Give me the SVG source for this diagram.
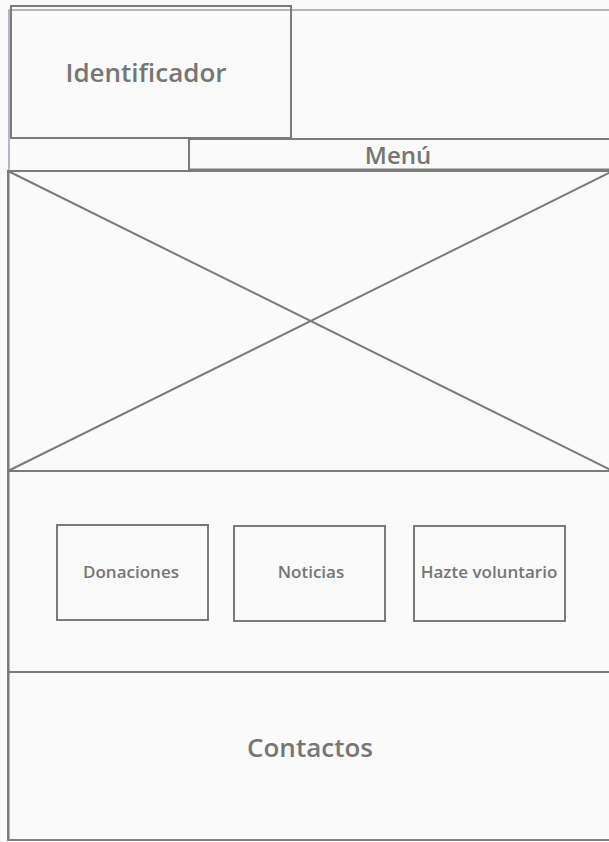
<svg xmlns="http://www.w3.org/2000/svg" width="609" height="842" viewBox="0 0 609 842">
<style>
.bx{fill:none;stroke:#7b7b7b;stroke-width:2}
.fr{fill:none;stroke:#8f86a3;stroke-width:1.2}
.t{font-family:"Open Sans","Noto Sans",sans-serif;fill:#767676;text-anchor:middle;font-weight:600}
</style>
<rect x="0" y="0" width="609" height="842" fill="#fafafa"/>
<rect class="fr" x="9" y="10" width="610" height="830"/>
<g id="identificador">
<rect class="bx" x="11" y="6" width="280" height="132"/>
<text class="t" x="146" y="82" font-size="26">Identificador</text>
</g>
<g id="menu">
<rect class="bx" x="189" y="139" width="425" height="31"/>
<line x1="189" y1="170" x2="609" y2="170" stroke="#7b7b7b" stroke-width="3"/>
<text class="t" x="398" y="164" font-size="24">Menú</text>
</g>
<g id="imagen">
<rect class="bx" x="8" y="171" width="605" height="300"/>
<line class="bx" x1="8" y1="171" x2="613" y2="471"/>
<line class="bx" x1="613" y1="171" x2="8" y2="471"/>
</g>
<g id="seccion">
<rect class="bx" x="8" y="471" width="605" height="201"/>
</g>
<g id="donaciones">
<rect class="bx" x="57" y="525" width="151" height="95"/>
<text class="t" x="131" y="578" font-size="17">Donaciones</text>
</g>
<g id="noticias">
<rect class="bx" x="234" y="526" width="151" height="95"/>
<text class="t" x="311" y="578" font-size="17">Noticias</text>
</g>
<g id="voluntario">
<rect class="bx" x="414" y="526" width="151" height="95"/>
<text class="t" x="489" y="578" font-size="17">Hazte voluntario</text>
</g>
<g id="contactos">
<rect class="bx" x="8" y="672" width="605" height="168"/>
<line class="fr" x1="9" y1="840" x2="609" y2="840"/>
<text class="t" x="310" y="757" font-size="26">Contactos</text>
</g>
<g id="connectors"></g>
</svg>
